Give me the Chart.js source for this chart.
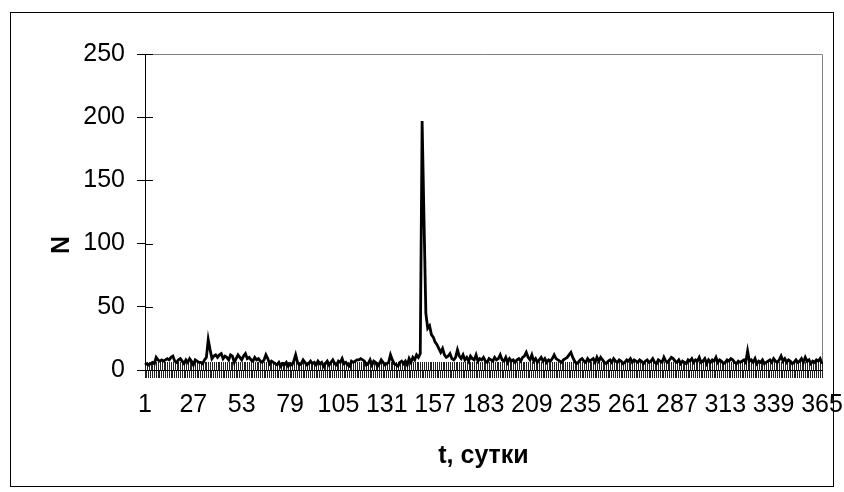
<!DOCTYPE html>
<html>
<head>
<meta charset="utf-8">
<script src="https://cdn.jsdelivr.net/npm/chart.js@4.4.1/dist/chart.umd.min.js"></script>
<style>
    html, body { margin: 0; padding: 0; background: #fff; }
    #chartBox { width: 844px; height: 492px; }
</style>
</head>
<body>
<div id="chartBox"><canvas id="nChart" width="844" height="492"></canvas></div>
<script>
'use strict';

// daily counts, days 1..365
var nValues = [
    4, 5, 4, 5, 6, 5, 10, 8, 7, 8,
    7, 8, 9, 8, 10, 11, 7, 6, 8, 9,
    7, 5, 8, 6, 9, 7, 4, 8, 7, 6,
    6, 5, 8, 10, 24, 16, 9, 11, 12, 10,
    12, 13, 9, 11, 10, 8, 12, 11, 6, 9,
    12, 10, 8, 11, 13, 9, 10, 8, 7, 10,
    8, 9, 7, 6, 8, 12, 9, 5, 7, 6,
    5, 4, 6, 3, 5, 4, 6, 3, 5, 4,
    7, 12, 6, 4, 5, 8, 6, 4, 5, 7,
    5, 6, 4, 7, 5, 6, 3, 5, 7, 4,
    6, 8, 5, 4, 7, 6, 9, 5, 6, 4,
    3, 7, 6, 7, 8, 8, 9, 8, 7, 4,
    5, 8, 4, 7, 6, 3, 5, 8, 6, 4,
    5, 6, 12, 8, 5, 4, 3, 6, 7, 5,
    7, 4, 9, 6, 10, 8, 12, 10, 13, 197,
    120, 45, 33, 35, 28, 26, 22, 20, 17, 14,
    17, 12, 10, 11, 13, 9, 8, 10, 16, 11,
    9, 12, 8, 10, 7, 11, 9, 8, 12, 7,
    9, 8, 10, 7, 6, 9, 8, 7, 10, 8,
    9, 12, 8, 7, 10, 6, 9, 7, 8, 6,
    8, 9, 7, 10, 11, 14, 10, 8, 12, 7,
    9, 6, 8, 10, 7, 9, 6, 8, 7, 9,
    12, 9, 8, 7, 6, 8, 9, 10, 12, 14,
    10, 7, 5, 6, 8, 9, 7, 6, 9, 7,
    8, 9, 6, 10, 7, 10, 8, 6, 5, 7,
    8, 6, 9, 7, 6, 8, 7, 5, 6, 8,
    7, 9, 6, 8, 7, 6, 8, 7, 5, 7,
    8, 6, 7, 9, 6, 5, 8, 7, 6, 10,
    7, 6, 8, 10, 9, 7, 6, 8, 5, 7,
    6, 5, 8, 7, 9, 6, 8, 7, 10, 6,
    7, 9, 5, 8, 6, 8, 7, 10, 6, 8,
    7, 5, 6, 8, 7, 9, 8, 6, 5, 7,
    6, 7, 8, 6, 15, 7, 8, 6, 9, 5,
    7, 6, 8, 5, 6, 7, 8, 6, 9, 7,
    6, 8, 11, 7, 9, 6, 8, 7, 5, 6,
    8, 6, 7, 9, 6, 10, 7, 8, 5, 7,
    6, 8, 7, 9, 5
];

var dayLabels = [];
for (var d = 1; d <= nValues.length; d++) dayLabels.push(String(d));

var labelEvery = 26;
var yTicks = [0, 50, 100, 150, 200, 250];

var xTitle = 't, сутки';
var yTitle = 'N';

var fontFam = '"Liberation Sans", Arial, sans-serif';
var tickLen = 8;

// outer frame, plot frame (top/right), inward halves of the crossing ticks, y title
var frameLines = {
    id: 'frameLines',
    beforeDraw: function (chart) {
        var ctx = chart.ctx;
        ctx.save();
        ctx.fillStyle = '#fff';
        ctx.fillRect(0, 0, chart.width, chart.height);
        ctx.strokeStyle = '#000';
        ctx.lineWidth = 1;
        ctx.strokeRect(10.5, 12.5, 823, 474);
        ctx.restore();
    },
    beforeDatasetsDraw: function (chart) {
        var ctx = chart.ctx;
        var a = chart.chartArea;
        var xs = chart.scales.x;
        var ys = chart.scales.y;
        ctx.save();
        ctx.strokeStyle = '#808080';
        ctx.lineWidth = 1;
        ctx.beginPath();
        ctx.moveTo(a.left, a.top + 0.5);
        ctx.lineTo(a.right + 0.5, a.top + 0.5);
        ctx.lineTo(a.right + 0.5, a.bottom);
        ctx.stroke();

        ctx.strokeStyle = '#222';
        ctx.beginPath();
        xs.ticks.forEach(function (t, i) {
            var px = Math.round(xs.getPixelForTick(i)) + 0.5;
            ctx.moveTo(px, a.bottom - tickLen);
            ctx.lineTo(px, a.bottom);
        });
        ctx.stroke();

        ctx.strokeStyle = '#000';
        ctx.beginPath();
        ys.ticks.forEach(function (t, i) {
            var py = Math.round(ys.getPixelForTick(i)) + 0.5;
            ctx.moveTo(a.left, py);
            ctx.lineTo(a.left + tickLen, py);
        });
        ctx.stroke();
        ctx.restore();
    },
    afterDraw: function (chart) {
        var ctx = chart.ctx;
        ctx.save();
        ctx.translate(62, 245);
        ctx.rotate(-Math.PI / 2);
        ctx.fillStyle = '#000';
        ctx.font = 'bold 25px ' + fontFam;
        ctx.textAlign = 'center';
        ctx.textBaseline = 'middle';
        ctx.fillText(yTitle, 0, 0);
        ctx.restore();
    }
};

new Chart(document.getElementById('nChart'), {
    type: 'line',
    data: {
        labels: dayLabels,
        datasets: [{
            data: nValues,
            borderColor: '#000',
            borderWidth: 2.8,
            pointRadius: 0,
            tension: 0,
            fill: false
        }]
    },
    options: {
        responsive: false,
        animation: false,
        devicePixelRatio: 1,
        layout: { padding: { top: 54, right: 22, left: 0, bottom: 0 } },
        plugins: { legend: { display: false }, tooltip: { enabled: false } },
        scales: {
            x: {
                type: 'category',
                offset: false,
                afterFit: function (s) { s.height = 122; s.paddingLeft = 0; s.paddingRight = 0; },
                border: { color: '#000', width: 1 },
                grid: { drawOnChartArea: false, drawTicks: true, tickLength: tickLen, color: '#222', lineWidth: 1 },
                ticks: {
                    autoSkip: false,
                    maxRotation: 0,
                    minRotation: 0,
                    padding: 12,
                    color: '#000',
                    font: { family: fontFam, size: 25 },
                    callback: function (v, i) { return i % labelEvery === 0 ? dayLabels[i] : ''; }
                },
                title: {
                    display: true,
                    text: xTitle,
                    color: '#000',
                    font: { family: fontFam, size: 25, weight: 'bold' },
                    padding: { top: 0, bottom: 21 }
                }
            },
            y: {
                min: 0,
                max: 250,
                afterFit: function (s) { s.width = 145; s.paddingTop = 0; s.paddingBottom = 0; },
                afterBuildTicks: function (s) { s.ticks = yTicks.map(function (v) { return { value: v }; }); },
                border: { color: '#000', width: 1 },
                grid: { drawOnChartArea: false, drawTicks: true, tickLength: tickLen, color: '#000', lineWidth: 1 },
                ticks: {
                    padding: 12,
                    color: '#000',
                    font: { family: fontFam, size: 25 }
                }
            }
        }
    },
    plugins: [frameLines]
});
</script>
</body>
</html>
